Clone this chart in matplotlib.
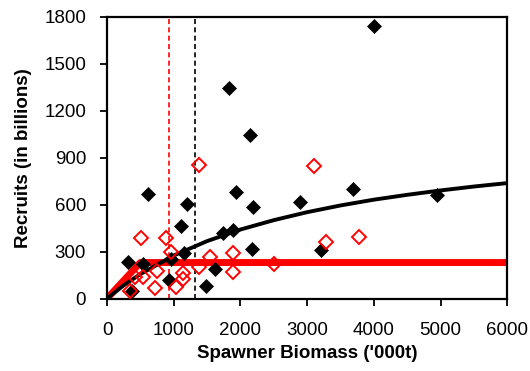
import matplotlib
matplotlib.use("Agg")
import matplotlib.pyplot as plt

plt.rcParams['font.family'] = ['Liberation Sans', 'DejaVu Sans']

# Observed stock-recruit pairs (period 1, filled black)
black_ssb = [620, 1200, 1116, 1930, 2181, 2890, 315, 540, 966, 1155, 925, 380,
             1491, 1615, 1740, 1890, 2166, 3200, 3690, 4940, 4000, 1826, 2140]
black_rec = [670, 604, 465, 681, 582, 614, 236, 221, 251, 290, 119, 50,
             80, 187, 422, 435, 315, 311, 700, 663, 1742, 1347, 1044]

# Observed stock-recruit pairs (period 2, open red)
red_ssb = [1380, 3100, 516, 890, 955, 1540, 1890, 1890, 1385, 2510, 750, 540,
           415, 340, 715, 1030, 1140, 1140, 3280, 3770]
red_rec = [851, 845, 390, 386, 298, 264, 294, 172, 204, 219, 174, 136,
           140, 50, 67, 72, 165, 126, 364, 396]

# Fitted curves
bh_x = [0, 250, 500, 1000, 1500, 2000, 2500, 3000, 3500, 4000, 4500, 5000, 5500, 6000]
bh_y = [0, 84, 156, 275, 367, 441, 501, 552, 595, 632, 663, 691, 716, 738]
hs_x = [0, 500, 6000]
hs_y = [0, 230, 230]

# Reference biomass lines
red_ref = 930
black_ref = 1320

xticks = [0, 1000, 2000, 3000, 4000, 5000, 6000]
yticks = [0, 300, 600, 900, 1200, 1500, 1800]

fig = plt.figure(figsize=(5.30, 3.71), dpi=100)
ax = fig.add_axes([0.2019, 0.1954, 0.7553, 0.7588])

ax.plot(hs_x, hs_y, color='#ff0000', lw=5, solid_capstyle='round', zorder=2)
ax.plot(bh_x, bh_y, color='black', lw=2.8, zorder=3)
ax.axvline(red_ref, color='#ff0000', lw=1.2, ls=(0, (3, 2)), zorder=1)
ax.axvline(black_ref, color='black', lw=1.2, ls=(0, (3, 2)), zorder=1)
ax.plot(black_ssb, black_rec, ls='none', marker='D', ms=7.5, mfc='black',
        mec='black', mew=0.5, zorder=4)
ax.plot(red_ssb, red_rec, ls='none', marker='D', ms=7, mfc='none',
        mec='#ff0000', mew=1.4, zorder=5)

ax.set_xlim(0, 6000)
ax.set_ylim(0, 1800)
ax.set_xticks(xticks)
ax.set_yticks(yticks)
ax.tick_params(direction='out', length=5, width=1.3, labelsize=13.5)
ax.tick_params(axis='x', pad=12)
ax.tick_params(axis='y', pad=10)
for s in ax.spines.values():
    s.set_linewidth(1.6)
ax.set_xlabel("Spawner Biomass ('000t)", fontsize=13.5, fontweight='bold', labelpad=4)
ax.set_ylabel("Recruits (in billions)", fontsize=13.5, fontweight='bold', labelpad=9)

fig.savefig('out.png', dpi=100)
